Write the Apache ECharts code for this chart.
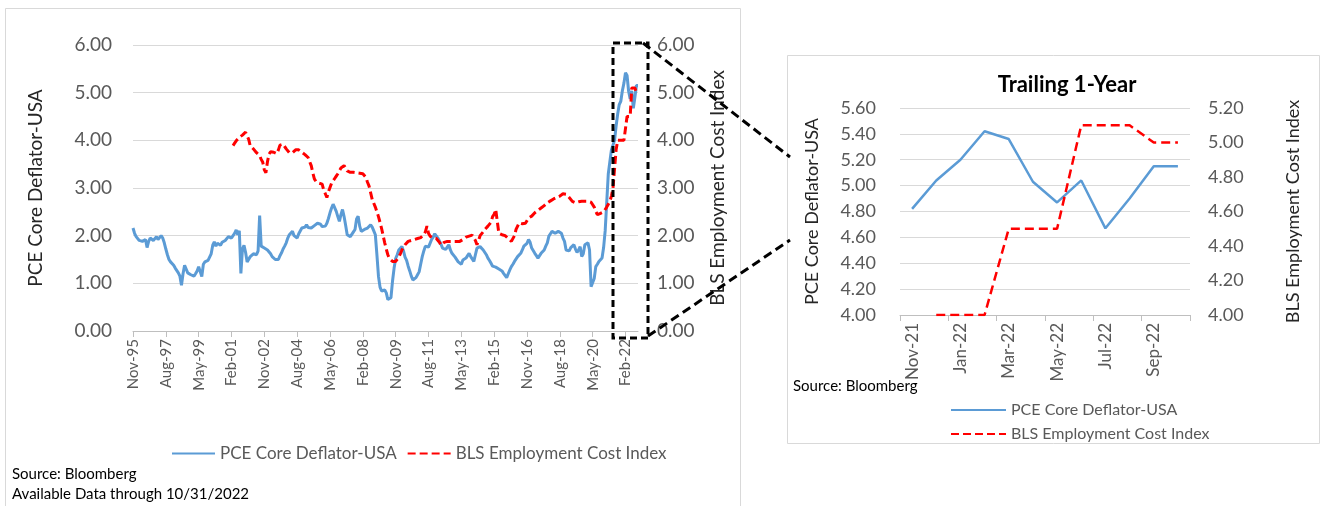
<!DOCTYPE html>
<html>
<head>
<meta charset="utf-8">
<script src="https://cdn.jsdelivr.net/npm/echarts@6/dist/echarts.min.js"></script>
<style>
  html, body { margin: 0; padding: 0; background: #ffffff; }
  #chart { width: 1321px; height: 506px; }
</style>
</head>
<body>
<div id="chart"></div>
<script>
// Monthly history starts Nov-1995 and runs through Oct-2022
const START_YEAR = 1995;
const START_MONTH = 10; // November, zero-based

// PCE Core Deflator-USA, y/y %, one row per calendar year
const pceCore = [
  2.16, 2.05,                                                               // 1995 (Nov-Dec)
  1.98, 1.95, 1.90, 1.93, 1.88, 1.90, 1.92, 1.75, 1.88, 1.95, 1.93, 1.90,   // 1996
  1.93, 1.98, 1.92, 1.96, 2.00, 1.95, 1.85, 1.72, 1.60, 1.50, 1.45, 1.46,   // 1997
  1.38, 1.32, 1.28, 1.22, 1.15, 0.96, 1.20, 1.38, 1.30, 1.22, 1.25, 1.18,   // 1998
  1.21, 1.15, 1.20, 1.26, 1.35, 1.32, 1.14, 1.40, 1.45, 1.44, 1.48, 1.50,   // 1999
  1.62, 1.80, 1.87, 1.78, 1.84, 1.82, 1.80, 1.86, 1.88, 1.90, 1.92, 1.98,   // 2000
  2.02, 1.95, 2.00, 2.05, 2.12, 2.02, 2.10, 1.21, 1.72, 1.80, 1.65, 1.45,   // 2001
  1.48, 1.56, 1.55, 1.62, 1.64, 1.60, 1.68, 2.42, 1.78, 1.76, 1.74, 1.72,   // 2002
  1.70, 1.71, 1.62, 1.56, 1.52, 1.50, 1.46, 1.50, 1.58, 1.64, 1.72, 1.78,   // 2003
  1.85, 1.95, 2.02, 2.06, 2.09, 2.00, 1.98, 1.95, 2.04, 2.08, 2.16, 2.12,   // 2004
  2.18, 2.23, 2.17, 2.13, 2.16, 2.19, 2.21, 2.23, 2.26, 2.30, 2.24, 2.19,   // 2005
  2.22, 2.20, 2.26, 2.36, 2.48, 2.58, 2.66, 2.62, 2.51, 2.40, 2.30, 2.44,   // 2006
  2.55, 2.40, 2.22, 2.02, 2.00, 1.98, 2.00, 2.08, 2.13, 2.35, 2.41, 2.20,   // 2007
  2.09, 2.12, 2.13, 2.10, 2.16, 2.20, 2.23, 2.18, 2.10, 2.02, 1.60, 1.15,   // 2008
  0.92, 0.84, 0.82, 0.86, 0.80, 0.66, 0.62, 0.70, 1.05, 1.32, 1.52, 1.60,   // 2009
  1.70, 1.74, 1.77, 1.68, 1.55, 1.48, 1.36, 1.26, 1.15, 1.07, 1.10, 1.12,   // 2010
  1.18, 1.24, 1.40, 1.56, 1.68, 1.78, 1.81, 1.76, 1.80, 1.92, 1.97, 2.04,   // 2011
  2.00, 1.95, 1.92, 1.82, 1.74, 1.72, 1.71, 1.76, 1.81, 1.70, 1.63, 1.60,   // 2012
  1.55, 1.53, 1.45, 1.42, 1.40, 1.49, 1.46, 1.53, 1.58, 1.63, 1.56, 1.53,   // 2013
  1.46, 1.60, 1.74, 1.72, 1.77, 1.76, 1.70, 1.67, 1.60, 1.53, 1.48, 1.42,   // 2014
  1.36, 1.38, 1.34, 1.31, 1.30, 1.28, 1.26, 1.21, 1.18, 1.12, 1.20, 1.28,   // 2015
  1.35, 1.40, 1.46, 1.50, 1.56, 1.60, 1.63, 1.70, 1.78, 1.80, 1.84, 1.92,   // 2016
  1.86, 1.74, 1.70, 1.63, 1.58, 1.53, 1.55, 1.63, 1.60, 1.70, 1.78, 1.85,   // 2017
  1.99, 2.04, 2.09, 2.06, 2.05, 2.08, 2.09, 2.07, 2.05, 1.95, 1.88, 1.70,   // 2018
  1.72, 1.68, 1.75, 1.77, 1.81, 1.72, 1.65, 1.70, 1.77, 1.56, 1.62, 1.81,   // 2019
  1.84, 1.85, 1.70, 0.93, 0.93, 1.10, 1.35, 1.40, 1.46, 1.50, 1.53, 1.75,   // 2020
  2.10, 2.70, 3.30, 3.55, 3.80, 3.90, 4.00, 4.30, 4.55, 4.75, 4.82, 5.04,   // 2021
  5.20, 5.42, 5.36, 5.03, 4.87, 5.04, 4.67, 4.90, 5.15, 5.15                // 2022 (Jan-Oct)
];

// BLS Employment Cost Index, y/y %, quarterly prints carried monthly
const eciIndex = [
  null, null,                                                               // 1995
  null, null, null, null, null, null, null, null, null, null, null, null,   // 1996
  null, null, null, null, null, null, null, null, null, null, null, null,   // 1997
  null, null, null, null, null, null, null, null, null, null, null, null,   // 1998
  null, null, null, null, null, null, null, null, null, null, null, null,   // 1999
  null, null, null, null, null, null, null, null, null, null, null, null,   // 2000
  null, null, 3.89, 3.94, 3.99, 4.02, 4.06, 4.10, 4.11, 4.14, 4.17, 4.20,   // 2001
  4.02, 3.88, 3.85, 3.82, 3.78, 3.74, 3.70, 3.68, 3.60, 3.54, 3.38, 3.32,   // 2002
  3.55, 3.71, 3.76, 3.76, 3.75, 3.75, 3.72, 3.80, 3.90, 3.92, 3.92, 3.92,   // 2003
  3.82, 3.78, 3.74, 3.71, 3.74, 3.78, 3.80, 3.82, 3.80, 3.78, 3.75, 3.72,   // 2004
  3.70, 3.66, 3.64, 3.55, 3.47, 3.32, 3.19, 3.14, 3.11, 3.10, 3.09, 3.08,   // 2005
  2.95, 2.88, 2.80, 2.92, 3.01, 3.10, 3.15, 3.20, 3.25, 3.30, 3.36, 3.42,   // 2006
  3.45, 3.47, 3.42, 3.36, 3.34, 3.33, 3.33, 3.33, 3.33, 3.32, 3.32, 3.31,   // 2007
  3.31, 3.30, 3.26, 3.22, 3.12, 3.04, 2.90, 2.76, 2.68, 2.60, 2.50, 2.40,   // 2008
  2.28, 2.15, 2.00, 1.85, 1.72, 1.60, 1.52, 1.48, 1.46, 1.46, 1.46, 1.50,   // 2009
  1.55, 1.62, 1.70, 1.76, 1.81, 1.84, 1.88, 1.88, 1.90, 1.92, 1.92, 1.93,   // 2010
  1.94, 1.95, 1.96, 1.98, 2.02, 2.08, 2.20, 2.05, 1.99, 1.97, 1.95, 1.95,   // 2011
  1.94, 1.92, 1.86, 1.80, 1.84, 1.86, 1.88, 1.88, 1.88, 1.88, 1.88, 1.88,   // 2012
  1.88, 1.88, 1.88, 1.88, 1.90, 1.92, 1.95, 1.97, 1.98, 1.99, 2.00, 2.01,   // 2013
  2.02, 1.90, 1.81, 1.90, 2.00, 2.04, 2.08, 2.13, 2.17, 2.20, 2.23, 2.28,   // 2014
  2.40, 2.45, 2.55, 2.30, 2.05, 2.02, 2.02, 2.02, 2.00, 1.98, 1.94, 1.90,   // 2015
  1.88, 1.90, 2.00, 2.13, 2.20, 2.27, 2.26, 2.25, 2.23, 2.26, 2.30, 2.37,   // 2016
  2.39, 2.41, 2.44, 2.48, 2.51, 2.53, 2.55, 2.58, 2.60, 2.63, 2.66, 2.69,   // 2017
  2.71, 2.73, 2.75, 2.77, 2.79, 2.80, 2.81, 2.83, 2.86, 2.88, 2.90, 2.87,   // 2018
  2.83, 2.80, 2.76, 2.72, 2.70, 2.69, 2.70, 2.71, 2.72, 2.72, 2.72, 2.72,   // 2019
  2.72, 2.72, 2.72, 2.70, 2.69, 2.60, 2.51, 2.44, 2.46, 2.47, 2.48, 2.50,   // 2020
  2.55, 2.60, 2.66, 2.72, 2.83, 3.00, 3.40, 3.80, 4.00, 4.00, 4.00, 4.00,   // 2021
  4.00, 4.00, 4.50, 4.50, 4.50, 5.10, 5.10, 5.10, 5.00, 5.00                // 2022
];

// Trailing 1-year detail
const trailingMonths = ['Nov-21', 'Dec-21', 'Jan-22', 'Feb-22', 'Mar-22', 'Apr-22',
                        'May-22', 'Jun-22', 'Jul-22', 'Aug-22', 'Sep-22', 'Oct-22'];
const trailingPce = [4.82, 5.04, 5.20, 5.42, 5.36, 5.03, 4.87, 5.04, 4.67, 4.90, 5.15, 5.15];
const trailingEci = [null, 4.00, 4.00, 4.00, 4.50, 4.50, 4.50, 5.10, 5.10, 5.10, 5.00, 5.00];

// Axis tick values
const historyTicks = [0, 1, 2, 3, 4, 5, 6];
const trailingPceTicks = [4.0, 4.2, 4.4, 4.6, 4.8, 5.0, 5.2, 5.4, 5.6];
const trailingEciTicks = [4.0, 4.2, 4.4, 4.6, 4.8, 5.0, 5.2];

const SERIES_PCE = 'PCE Core Deflator-USA';
const SERIES_ECI = 'BLS Employment Cost Index';
const MONTH_NAMES = ['Jan', 'Feb', 'Mar', 'Apr', 'May', 'Jun', 'Jul', 'Aug', 'Sep', 'Oct', 'Nov', 'Dec'];

// Month labels such as "Nov-95" for the long history axis
const monthLabels = pceCore.map(function (_, i) {
  const total = START_MONTH + i;
  const year = START_YEAR + Math.floor(total / 12);
  return MONTH_NAMES[total % 12] + '-' + String(year % 100).padStart(2, '0');
});

const FONT = 'Lato, "Open Sans", "Liberation Sans", sans-serif';
const BLUE = '#5b9bd5';
const RED = '#ff0000';
const TICK_GREY = '#595959';
const GRID_GREY = '#d9d9d9';
const AXIS_GREY = '#bfbfbf';

function rangeOf(ticks) {
  return { min: ticks[0], max: ticks[ticks.length - 1],
           interval: +(ticks[1] - ticks[0]).toFixed(4) };
}
const fmt2 = function (v) { return Number(v).toFixed(2); };

function valueAxis(gridIndex, position, ticks, name, opts) {
  const r = rangeOf(ticks);
  return {
    type: 'value', gridIndex: gridIndex, position: position,
    min: r.min, max: r.max, interval: r.interval,
    axisLine: { show: false }, axisTick: { show: false },
    axisLabel: { formatter: fmt2, color: TICK_GREY, fontFamily: FONT,
                 fontSize: opts.labelSize, margin: opts.labelMargin },
    splitLine: { show: opts.grid, lineStyle: { color: GRID_GREY, width: 1 } },
    name: name, nameLocation: 'middle', nameRotate: 90, nameGap: opts.nameGap,
    nameTextStyle: { color: '#262626', fontFamily: FONT, fontSize: opts.nameSize }
  };
}

// Legend entries: line sample only, no marker dot
const legendCommon = {
  itemHeight: 14,
  itemStyle: { opacity: 0, borderWidth: 0 },
  lineStyle: { inherit: true },
  data: [SERIES_PCE, SERIES_ECI]
};

const chart = echarts.init(document.getElementById('chart'), null, { renderer: 'canvas' });

chart.setOption({
  animation: false,
  backgroundColor: '#ffffff',
  textStyle: { fontFamily: FONT },
  title: {
    text: 'Trailing 1-Year', left: 1062, top: 69, textAlign: 'center',
    textStyle: { fontFamily: FONT, fontSize: 22, fontWeight: 'bold', color: '#000000' }
  },
  grid: [
    { left: 133, right: 683, top: 45, bottom: 175 },
    { left: 900, right: 131, top: 108, bottom: 191 }
  ],
  xAxis: [
    {
      type: 'category', gridIndex: 0, data: monthLabels, boundaryGap: false,
      axisLine: { lineStyle: { color: AXIS_GREY, width: 1 } },
      axisTick: { show: true, interval: 20, length: 6, lineStyle: { color: AXIS_GREY } },
      axisLabel: { interval: 20, rotate: 90, color: TICK_GREY, fontFamily: FONT,
                   fontSize: 15, margin: 8 },
      splitLine: { show: false }
    },
    {
      type: 'category', gridIndex: 1, data: trailingMonths, boundaryGap: true,
      axisLine: { lineStyle: { color: AXIS_GREY, width: 1 } },
      axisTick: { show: true, interval: 1, alignWithLabel: false, length: 6,
                  lineStyle: { color: AXIS_GREY } },
      axisLabel: { interval: 1, rotate: 90, color: TICK_GREY, fontFamily: FONT,
                   fontSize: 17, margin: 8 },
      splitLine: { show: false }
    }
  ],
  yAxis: [
    valueAxis(0, 'left', historyTicks, SERIES_PCE,
              { labelSize: 19, labelMargin: 21, grid: true, nameGap: 88, nameSize: 19 }),
    valueAxis(0, 'right', historyTicks, SERIES_ECI,
              { labelSize: 19, labelMargin: 19, grid: false, nameGap: 70, nameSize: 19 }),
    valueAxis(1, 'left', trailingPceTicks, SERIES_PCE,
              { labelSize: 18, labelMargin: 24, grid: true, nameGap: 79, nameSize: 18 }),
    valueAxis(1, 'right', trailingEciTicks, SERIES_ECI,
              { labelSize: 18, labelMargin: 18, grid: false, nameGap: 94, nameSize: 18 })
  ],
  legend: [
    Object.assign({}, legendCommon, {
      orient: 'horizontal', left: 166, top: 440, itemWidth: 43, itemGap: 10,
      textStyle: { color: TICK_GREY, fontFamily: FONT, fontSize: 17 }
    }),
    Object.assign({}, legendCommon, {
      orient: 'vertical', left: 945, top: 397, itemWidth: 55, itemGap: 8,
      textStyle: { color: TICK_GREY, fontFamily: FONT, fontSize: 16 }
    })
  ],
  series: [
    {
      name: SERIES_PCE, type: 'line', xAxisIndex: 0, yAxisIndex: 0, data: pceCore,
      symbol: 'none', showSymbol: false,
      lineStyle: { color: BLUE, width: 3 }, itemStyle: { color: BLUE }, z: 3
    },
    {
      name: SERIES_ECI, type: 'line', xAxisIndex: 0, yAxisIndex: 1, data: eciIndex,
      symbol: 'none', showSymbol: false,
      lineStyle: { color: RED, width: 3, type: [8, 4] }, itemStyle: { color: RED }, z: 4
    },
    {
      name: SERIES_PCE, type: 'line', xAxisIndex: 1, yAxisIndex: 2, data: trailingPce,
      symbol: 'none', showSymbol: false,
      lineStyle: { color: BLUE, width: 2.5 }, itemStyle: { color: BLUE }, z: 3
    },
    {
      name: SERIES_ECI, type: 'line', xAxisIndex: 1, yAxisIndex: 3, data: trailingEci,
      symbol: 'none', showSymbol: false,
      lineStyle: { color: RED, width: 2.5, type: [9, 5] }, itemStyle: { color: RED }, z: 4
    }
  ],
  graphic: [
    // panel frames
    { type: 'rect', z: 0, silent: true,
      shape: { x: 5.5, y: 8.5, width: 735, height: 510 },
      style: { fill: 'none', stroke: GRID_GREY, lineWidth: 1 } },
    { type: 'rect', z: 0, silent: true,
      shape: { x: 787.5, y: 55.5, width: 532, height: 388 },
      style: { fill: 'none', stroke: GRID_GREY, lineWidth: 1 } },
    // zoom box around the last year and its connectors
    { type: 'rect', z: 100, silent: true,
      shape: { x: 613, y: 43, width: 35, height: 295 },
      style: { fill: 'none', stroke: '#000000', lineWidth: 3, lineDash: [7, 4] } },
    { type: 'line', z: 100, silent: true,
      shape: { x1: 643, y1: 43, x2: 790, y2: 157 },
      style: { stroke: '#000000', lineWidth: 3, lineDash: [9, 5] } },
    { type: 'line', z: 100, silent: true,
      shape: { x1: 648, y1: 336, x2: 790, y2: 240 },
      style: { stroke: '#000000', lineWidth: 3, lineDash: [9, 5] } },
    // source notes
    { type: 'text', z: 100, left: 12, top: 467,
      style: { text: 'Source: Bloomberg', fill: '#000000', font: '15px ' + FONT } },
    { type: 'text', z: 100, left: 12, top: 487,
      style: { text: 'Available Data through 10/31/2022', fill: '#000000', font: '15px ' + FONT } },
    { type: 'text', z: 100, left: 793, top: 379,
      style: { text: 'Source: Bloomberg', fill: '#000000', font: '15px ' + FONT } }
  ]
});
</script>
</body>
</html>
